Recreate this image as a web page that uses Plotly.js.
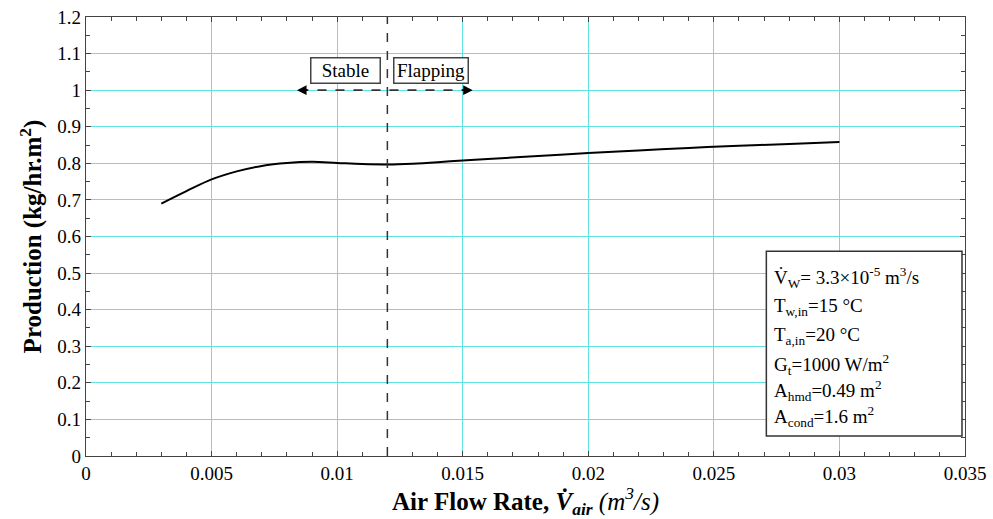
<!DOCTYPE html>
<html>
<head>
<meta charset="utf-8">
<script src="https://cdn.plot.ly/plotly-3.0.1.min.js"></script>
<style>html,body{margin:0;padding:0;background:#fff;}#chart{width:993px;height:519px;}</style>
</head>
<body>
<div id="chart"></div>
<script>
// Data
const airFlow = [0.003,0.004,0.005,0.006,0.007,0.008,0.009,0.010,0.011,0.012,0.013,0.014,0.015,0.016,0.018,0.020,0.022,0.024,0.026,0.028,0.030];
const production = [0.690,0.724,0.756,0.778,0.793,0.801,0.804,0.801,0.798,0.797,0.799,0.803,0.808,0.812,0.820,0.828,0.835,0.842,0.848,0.853,0.858];
const transitionX = 0.012;
const regimeLabels = ["Stable","Flapping"];
const paramLines = [
  "V\u0307<sub>W</sub>= 3.3\u00d710<sup>-5</sup> m<sup>3</sup>/s",
  "T<sub>w,in</sub>=15 \u00b0C",
  "T<sub>a,in</sub>=20 \u00b0C",
  "G<sub>t</sub>=1000 W/m<sup>2</sup>",
  "A<sub>hmd</sub>=0.49 m<sup>2</sup>",
  "A<sub>cond</sub>=1.6 m<sup>2</sup>"
];

const serif = "Liberation Serif, Times New Roman, serif";
const gridC = "rgb(95,226,226)";

const trace = {
  x: airFlow, y: production, type: "scatter", mode: "lines",
  line: {color: "#000", width: 2, shape: "spline"}, showlegend: false, hoverinfo: "skip"
};

const lineYs = [0.489, 0.407, 0.328, 0.251, 0.178, 0.107];
const annotations = [];
paramLines.forEach((t, i) => annotations.push({
  x: 0.0273, y: lineYs[i], xref: "x", yref: "y", text: t, showarrow: false,
  xanchor: "left", yanchor: "middle", font: {family: serif, size: 19, color: "#000"}
}));
annotations.push({x: 0.01034, y: 1.053, xref: "x", yref: "y", text: regimeLabels[0], showarrow: false,
  font: {family: serif, size: 19, color: "#000"}, bgcolor: "#fff", bordercolor: "#444", borderwidth: 1.5,
  width: 66, height: 22, borderpad: 1});
annotations.push({x: 0.01372, y: 1.053, xref: "x", yref: "y", text: regimeLabels[1], showarrow: false,
  font: {family: serif, size: 19, color: "#000"}, bgcolor: "#fff", bordercolor: "#444", borderwidth: 1.5,
  width: 71, height: 22, borderpad: 1});
// arrowheads
annotations.push({x: 0.0084, y: 1.0, xref: "x", yref: "y", ax: 12, ay: 0, text: "", showarrow: true,
  arrowhead: 2, arrowsize: 1.2, arrowwidth: 1.6, arrowcolor: "#000"});
annotations.push({x: 0.0154, y: 1.0, xref: "x", yref: "y", ax: -12, ay: 0, text: "", showarrow: true,
  arrowhead: 2, arrowsize: 1.2, arrowwidth: 1.6, arrowcolor: "#000"});

const shapes = [
  {type: "line", xref: "x", yref: "y", x0: transitionX, x1: transitionX, y0: 0, y1: 1.2,
   line: {color: "#333", width: 1.5, dash: "dash"}},
  {type: "line", xref: "x", yref: "y", x0: 0.0085, x1: 0.0153, y0: 1.0, y1: 1.0,
   line: {color: "#333", width: 1.8, dash: "dash"}},
  {type: "rect", xref: "x", yref: "y", x0: 0.02709, x1: 0.03488, y0: 0.0546, y1: 0.560,
   line: {color: "#333", width: 1.5}, fillcolor: "#fff", layer: "above"}
];

const layout = {
  width: 993, height: 519,
  margin: {l: 86, r: 28, t: 17, b: 63},
  paper_bgcolor: "#fff", plot_bgcolor: "#fff",
  font: {family: serif, color: "#000", size: 19},
  showlegend: false,
  xaxis: {
    range: [0, 0.035], dtick: 0.005, tick0: 0, showgrid: true, gridcolor: gridC, gridwidth: 1,
    zeroline: false, showline: true, linecolor: "#444", linewidth: 1.2, mirror: "allticks",
    ticks: "inside", ticklen: 5, tickcolor: "#444",
    minor: {dtick: 0.001, ticks: "inside", ticklen: 4, tickcolor: "#444", showgrid: false},
    tickfont: {family: serif, size: 19, color: "#000"},
    title: {text: "<b>Air Flow Rate, <i>V\u0307<sub>air</sub></i></b> <i>(m<sup>3</sup>/s)</i>",
      font: {family: serif, size: 25, color: "#000"}, standoff: 4}
  },
  yaxis: {
    range: [0, 1.2], dtick: 0.1, tick0: 0, showgrid: true, gridcolor: gridC, gridwidth: 1,
    zeroline: false, showline: true, linecolor: "#444", linewidth: 1.2, mirror: "allticks",
    ticks: "inside", ticklen: 5, tickcolor: "#444",
    minor: {dtick: 0.05, ticks: "inside", ticklen: 4, tickcolor: "#444", showgrid: false},
    tickfont: {family: serif, size: 19, color: "#000"},
    title: {text: "<b>Production (kg/hr.m<sup>2</sup>)</b>",
      font: {family: serif, size: 25, color: "#000"}, standoff: 8}
  },
  shapes: shapes,
  annotations: annotations
};

Plotly.newPlot("chart", [trace], layout, {staticPlot: true, displayModeBar: false});
</script>
</body>
</html>
